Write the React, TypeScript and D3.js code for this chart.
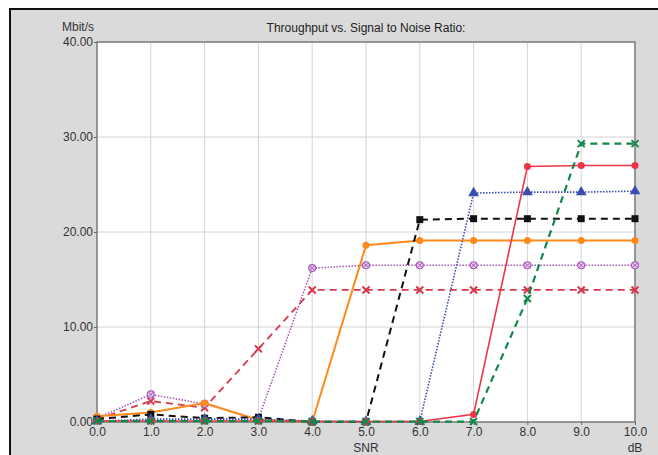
import React, { useRef, useEffect } from "react";
import * as d3 from "d3";

// SNR in dB
const snr = [0, 1, 2, 3, 4, 5, 6, 7, 8, 9, 10];
const yTicks = [0, 10, 20, 30, 40];

// throughput in Mbit/s, one list per curve
const greenDash = [0.1, 0.1, 0.1, 0.1, 0.05, 0.05, 0.05, 0.05, 13.0, 29.3, 29.3];
const redSolid = [0.1, 0.1, 0.1, 0.1, 0.05, 0.05, 0.05, 0.8, 26.9, 27.0, 27.0];
const blueDot = [0.1, 0.3, 0.3, 0.3, 0.1, 0.05, 0.05, 24.1, 24.2, 24.2, 24.3];
const blackDash = [0.3, 0.8, 0.4, 0.5, 0.0, 0.0, 21.3, 21.4, 21.4, 21.4, 21.4];
const orangeSolid = [0.6, 1.0, 2.0, 0.2, 0.0, 18.6, 19.1, 19.1, 19.1, 19.1, 19.1];
const purpleDot = [0.4, 2.9, 1.9, 0.3, 16.2, 16.5, 16.5, 16.5, 16.5, 16.5, 16.5];
const crimsonDash = [0.3, 2.2, 1.5, 7.7, 13.9, 13.9, 13.9, 13.9, 13.9, 13.9, 13.9];

const series = [
  { name: "crimson", values: crimsonDash, color: "#d9364c", width: 1.8, dash: "7,5", marker: "x" },
  { name: "purple", values: purpleDot, color: "#a45cb5", width: 1.6, dash: "1.5,1.5", marker: "ox" },
  { name: "orange", values: orangeSolid, color: "#ff8a1c", width: 2, dash: null, marker: "circle" },
  { name: "black", values: blackDash, color: "#111111", width: 2, dash: "7,5", marker: "square" },
  { name: "blue", values: blueDot, color: "#3b4cb0", width: 1.6, dash: "1.5,1.5", marker: "triangle" },
  { name: "red", values: redSolid, color: "#ee3445", width: 1.6, dash: null, marker: "circle" },
  { name: "green", values: greenDash, color: "#13874a", width: 2.2, dash: "7,5", marker: "x" },
];

export default function App() {
  const ref = useRef<SVGSVGElement>(null);

  useEffect(() => {
    const width = 658;
    const height = 455;
    const m = { left: 97, top: 42, right: 635, bottom: 422 };

    const svg = d3.select(ref.current);
    svg.selectAll("*").remove();
    svg.attr("width", width).attr("height", height);

    // grey panel with black frame
    svg.append("rect")
      .attr("x", 10).attr("y", 9)
      .attr("width", width).attr("height", height)
      .attr("fill", "#dadada")
      .attr("stroke", "#111").attr("stroke-width", 2);

    const x = d3.scaleLinear().domain([0, 10]).range([m.left, m.right]);
    const y = d3.scaleLinear().domain([0, 40]).range([m.bottom, m.top]);

    svg.append("rect")
      .attr("x", m.left).attr("y", m.top)
      .attr("width", m.right - m.left).attr("height", m.bottom - m.top)
      .attr("fill", "#fff");

    // grid
    svg.append("g").selectAll("line")
      .data(snr.slice(1, -1))
      .enter().append("line")
      .attr("x1", d => x(d)).attr("x2", d => x(d))
      .attr("y1", m.top).attr("y2", m.bottom)
      .attr("stroke", "#d4d4d4").attr("stroke-width", 1);
    svg.append("g").selectAll("line")
      .data(yTicks.slice(1, -1))
      .enter().append("line")
      .attr("x1", m.left).attr("x2", m.right)
      .attr("y1", d => y(d)).attr("y2", d => y(d))
      .attr("stroke", "#d4d4d4").attr("stroke-width", 1);

    svg.append("rect")
      .attr("x", m.left).attr("y", m.top)
      .attr("width", m.right - m.left).attr("height", m.bottom - m.top)
      .attr("fill", "none")
      .attr("stroke", "#7a7a7a").attr("stroke-width", 1.5);

    const font = "Liberation Sans, Arial, sans-serif";

    // axes
    const xAxis = svg.append("g")
      .attr("transform", `translate(0,${m.bottom})`)
      .call(d3.axisBottom(x).tickValues(snr).tickSize(3).tickFormat(d3.format(".1f")));
    const yAxis = svg.append("g")
      .attr("transform", `translate(${m.left},0)`)
      .call(d3.axisLeft(y).tickValues(yTicks).tickSize(3).tickFormat(d3.format(".2f")));
    [xAxis, yAxis].forEach(a => {
      a.select(".domain").remove();
      a.selectAll("line").attr("stroke", "#666");
      a.selectAll("text")
        .attr("fill", "#333")
        .style("font-family", font)
        .style("font-size", "12px");
    });
    xAxis.selectAll("text").attr("y", 5);
    yAxis.selectAll("text").attr("x", -4);

    svg.append("text")
      .attr("x", 366).attr("y", 32)
      .attr("text-anchor", "middle")
      .style("font-family", font).style("font-size", "12px")
      .attr("fill", "#222")
      .text("Throughput vs. Signal to Noise Ratio:");
    svg.append("text")
      .attr("x", 62).attr("y", 31)
      .style("font-family", font).style("font-size", "12px")
      .attr("fill", "#333")
      .text("Mbit/s");
    svg.append("text")
      .attr("x", x(5)).attr("y", 452)
      .attr("text-anchor", "middle")
      .style("font-family", font).style("font-size", "12px")
      .attr("fill", "#333")
      .text("SNR");
    svg.append("text")
      .attr("x", x(10)).attr("y", 452)
      .attr("text-anchor", "middle")
      .style("font-family", font).style("font-size", "12px")
      .attr("fill", "#333")
      .text("dB");

    const line = d3.line<number>()
      .x((_, i) => x(snr[i]))
      .y(d => y(d));

    series.forEach(s => {
      const g = svg.append("g");
      g.append("path")
        .datum(s.values)
        .attr("d", line)
        .attr("fill", "none")
        .attr("stroke", s.color)
        .attr("stroke-width", s.width)
        .attr("stroke-dasharray", s.dash);

      const pts = g.selectAll("g.pt")
        .data(s.values)
        .enter().append("g")
        .attr("transform", (d, i) => `translate(${x(snr[i])},${y(d)})`);

      if (s.marker === "circle") {
        pts.append("circle").attr("r", 3.5).attr("fill", s.color);
      } else if (s.marker === "square") {
        pts.append("rect").attr("x", -3.5).attr("y", -3.5)
          .attr("width", 7).attr("height", 7).attr("fill", s.color);
      } else if (s.marker === "triangle") {
        pts.append("path")
          .attr("d", d3.symbol(d3.symbolTriangle, 50)())
          .attr("fill", s.color);
      } else if (s.marker === "x") {
        pts.append("path")
          .attr("d", "M-3.5,-3.5L3.5,3.5M-3.5,3.5L3.5,-3.5")
          .attr("stroke", s.color).attr("stroke-width", 2);
      } else if (s.marker === "ox") {
        pts.append("circle").attr("r", 3.5)
          .attr("fill", "#e6c6ee").attr("stroke", s.color).attr("stroke-width", 1.2);
        pts.append("path")
          .attr("d", "M-2.2,-2.2L2.2,2.2M-2.2,2.2L2.2,-2.2")
          .attr("stroke", s.color).attr("stroke-width", 1);
      }
    });
  }, []);

  return <svg ref={ref} style={{ position: "absolute", left: 0, top: 0 }}></svg>;
}
